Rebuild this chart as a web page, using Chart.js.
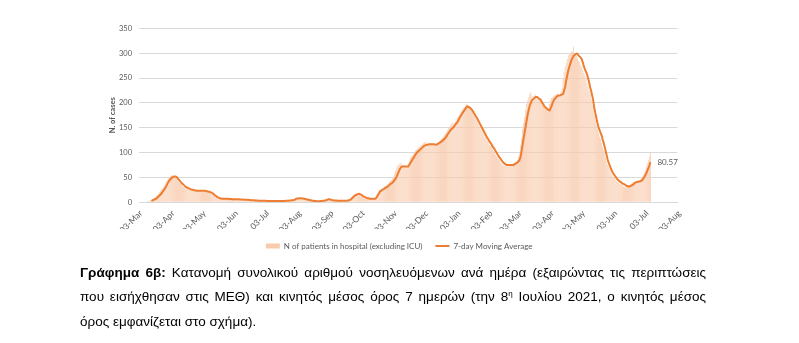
<!DOCTYPE html>
<html>
<head>
<meta charset="utf-8">
<title>Νοσηλευόμενοι ανά ημέρα</title>
<script src="https://cdn.jsdelivr.net/npm/chart.js@4.4.1/dist/chart.umd.min.js"></script>
<style>
    body { margin: 0; background: #fff; width: 799px; height: 343px; overflow: hidden; position: relative; }
    #hospChart { position: absolute; left: 0; top: 0; }
    .caption {
        position: absolute; left: 80px; top: 260.5px; width: 626px;
        font-family: "Liberation Sans", Arial, sans-serif; font-size: 13.5px;
        line-height: 24.5px; color: #000;
    }
    .caption .jl { text-align: justify; text-align-last: justify; }
    .caption sup { font-size: 8px; line-height: 0; }
</style>
</head>
<body>
<canvas id="hospChart" width="799" height="262"></canvas>
<div class="caption">
    <div class="jl"><b>Γράφημα 6β:</b> Κατανομή συνολικού αριθμού νοσηλευόμενων ανά ημέρα (εξαιρώντας τις περιπτώσεις</div>
    <div class="jl">που εισήχθησαν στις ΜΕΘ) και κινητός μέσος όρος 7 ημερών (την 8<sup>η</sup> Ιουλίου 2021, ο κινητός μέσος</div>
    <div>όρος εμφανίζεται στο σχήμα).</div>
</div>
<script>
// x axis runs from 03-Mar-2020 to 03-Aug-2021, one category per day
const axisStart = '2020-03-03';
const axisEnd = '2021-08-03';
const seriesStart = '2020-03-09';
const monthAbbr = ['Jan', 'Feb', 'Mar', 'Apr', 'May', 'Jun', 'Jul', 'Aug', 'Sep', 'Oct', 'Nov', 'Dec'];

const barLabel = 'N of patients in hospital (excluding ICU)';
const lineLabel = '7-day Moving Average';

// daily patients in hospital, from 09-Mar-2020
const patients = [
    1, 1, 2, 2, 3, 4, 5, 6, 8, 9, 11, 13, 15, 18, 21, 24, 27, 30, 33, 37, 41, 44, 48,                                   // Mar 20
    51, 53, 55, 52, 54, 50, 49, 47, 44, 41, 39, 37, 35, 33, 31, 30, 29, 28, 27, 26, 25, 24, 24, 23, 23, 22, 24, 23, 22, 23, // Apr
    24, 22, 23, 21, 24, 23, 22, 21, 20, 19, 18, 17, 15, 13, 11, 10, 9, 8, 7, 7, 7, 8, 7, 6, 7, 8, 7, 6, 6, 7, 6,          // May
    6, 5, 7, 6, 6, 5, 6, 5, 6, 5, 5, 5, 5, 4, 5, 5, 4, 4, 4, 4, 3, 4, 3, 3, 4, 3, 3, 3, 2, 3,                             // Jun
    3, 2, 3, 2, 2, 3, 2, 3, 2, 3, 2, 2, 3, 2, 3, 2, 3, 2, 3, 2, 3, 3, 3, 3, 4, 4, 4, 4, 5, 6, 7,                          // Jul
    8, 9, 8, 8, 7, 8, 7, 7, 6, 6, 5, 5, 4, 4, 3, 3, 3, 2, 2, 2, 2, 2, 2, 3, 3, 3, 4, 4, 5, 6, 6,                          // Aug
    6, 5, 4, 4, 3, 3, 3, 4, 3, 3, 3, 3, 3, 2, 3, 3, 4, 3, 4, 5, 6, 7, 9, 12, 14, 16, 17, 18, 17, 16,                      // Sep
    14, 12, 11, 10, 9, 8, 8, 7, 7, 6, 6, 7, 7, 6, 7, 8, 12, 16, 20, 24, 26, 27, 28, 30, 32, 34, 35, 37, 38, 41, 44,       // Oct
    45, 48, 52, 58, 64, 70, 74, 76, 78, 80, 74, 72, 71, 75, 70, 73, 78, 84, 90, 93, 95, 98, 100, 104, 106, 108, 110, 112, 114, 115, // Nov
    118, 120, 122, 121, 118, 117, 116, 120, 118, 116, 115, 118, 114, 117, 120, 122, 124, 126, 128, 130, 133, 136, 138, 142, 146, 150, 152, 155, 158, 160, 158, // Dec
    162, 165, 170, 172, 176, 180, 183, 186, 190, 192, 195, 198, 196, 194, 190, 188, 184, 180, 176, 172, 168, 165, 160, 156, 152, 148, 145, 141, 136, 132, 128, // Jan 21
    124, 120, 116, 113, 110, 106, 103, 100, 96, 93, 90, 87, 84, 80, 78, 76, 74, 73, 74, 72, 74, 75, 73, 76, 74, 77, 76, 80, // Feb
    82, 85, 92, 100, 115, 130, 148, 160, 172, 185, 198, 205, 212, 218, 222, 215, 210, 214, 218, 212, 208, 206, 210, 204, 200, 196, 192, 190, 188, 186, 184, // Mar
    190, 198, 204, 210, 212, 214, 216, 215, 218, 220, 216, 214, 222, 230, 248, 262, 272, 280, 288, 296, 298, 300, 304, 302, 313, 300, 298, 295, 290, 285, // Apr
    282, 276, 272, 266, 260, 255, 248, 240, 232, 224, 218, 208, 196, 186, 175, 165, 155, 148, 140, 132, 128, 120, 112, 105, 98, 90, 82, 75, 70, 64, 60, // May
    55, 52, 50, 48, 45, 42, 40, 38, 37, 36, 34, 32, 31, 30, 30, 31, 33, 35, 37, 38, 40, 41, 40, 42, 43, 42, 44, 45, 48, 50, // Jun
    55, 60, 65, 72, 78, 85, 92, 100                                                                                        // Jul
];

// 7-day moving average, same days as above
const movingAvg = [
    null, null, null, null, null, null, 3, 4, 5, 6, 7, 8, 10, 12, 14, 16, 19, 22, 25, 28, 31, 36, 40,                    // Mar 20
    43, 46, 48, 50, 51, 52, 52, 51, 49, 46, 44, 41, 39, 37, 35, 33, 31, 30, 29, 28, 27, 26, 25, 25, 24, 24, 23, 23, 23, 23, // Apr
    23, 23, 23, 23, 23, 23, 22, 22, 21, 21, 20, 19, 18, 16, 14, 13, 11, 10, 9, 8, 7.5, 7, 7, 7, 7, 7, 7, 7, 6.5, 6.5, 6.5, // May
    6, 6, 6, 6, 6, 6, 6, 5.5, 5.5, 5.5, 5.5, 5, 5, 5, 5, 5, 4.5, 4.5, 4, 4, 4, 4, 3.5, 3.5, 3.5, 3, 3, 3, 3, 3,          // Jun
    3, 3, 3, 2.5, 2.5, 2.5, 2.5, 2.5, 2.5, 2.5, 2.5, 2.5, 2.5, 2.5, 2.5, 2.5, 2.5, 2.5, 2.5, 2.5, 2.5, 3, 3, 3, 3, 3.5, 3.5, 4, 4, 4.5, 5.5, // Jul
    7, 7.5, 7.5, 8, 8, 8, 7.5, 7.5, 7, 6.5, 6, 5.5, 5, 4.5, 4, 3.5, 3, 3, 2.5, 2.5, 2, 2, 2, 2, 2.5, 2.5, 3, 3, 3.5, 4, 5, // Aug
    6, 6, 5.5, 5, 4, 4, 3.5, 3.5, 3.5, 3, 3, 3, 3, 3, 3, 3, 3, 3, 3, 3.5, 4, 5, 6, 8, 10, 12, 14, 15, 16, 16.5,          // Sep
    17, 16, 15, 13, 12, 11, 10, 9, 8, 8, 7, 7, 7, 7, 7, 7, 8, 11, 15, 18, 22, 23, 25, 26, 27, 29, 30, 31, 33, 35, 37,    // Oct
    38, 40, 42, 45, 48, 52, 57, 62, 67, 70, 72, 72, 72, 72, 72, 72, 72, 75, 79, 82, 86, 89, 92, 96, 99, 101, 103, 105, 107, 109, // Nov
    111, 113, 114, 115, 116, 116, 117, 117, 117, 117, 117, 117, 116, 116, 117, 118, 119, 121, 122, 124, 126, 128, 130, 133, 137, 140, 143, 146, 148, 150, 152, // Dec
    155, 158, 160, 164, 168, 172, 175, 179, 182, 185, 188, 191, 193, 192, 191, 189, 187, 184, 180, 177, 173, 170, 166, 162, 158, 154, 150, 146, 142, 138, 134, // Jan 21
    130, 127, 123, 120, 117, 113, 110, 107, 103, 100, 96, 93, 90, 87, 84, 81, 79, 77, 76, 75, 75, 75, 75, 75, 75, 75, 76, 77, // Feb
    79, 80, 82, 85, 90, 102, 115, 128, 140, 153, 165, 177, 186, 195, 200, 205, 207, 209, 211, 212, 212, 210, 208, 207, 204, 200, 197, 193, 191, 189, 187, // Mar
    186, 185, 189, 194, 200, 205, 208, 210, 213, 214, 215, 215, 216, 217, 218, 225, 232, 245, 255, 265, 272, 279, 286, 290, 294, 296, 298, 299, 298, 295, // Apr
    293, 291, 288, 281, 274, 268, 263, 258, 250, 242, 232, 224, 215, 205, 190, 180, 170, 160, 152, 146, 140, 135, 127, 120, 112, 103, 94, 85, 79, 73, 68, // May
    63, 59, 56, 53, 50, 47, 45, 43, 41, 40, 38, 37, 36, 35, 33, 33, 32, 32, 33, 34, 35, 37, 39, 40, 41, 41, 42, 42, 43, 44, // Jun
    47, 50, 54, 58, 63, 68, 74, 80.57                                                                                      // Jul
];

const yTicks = { min: 0, max: 350, step: 50 };

// --- build the day categories ---
const DAY = 86400000;
const t0 = Date.parse(axisStart + 'T00:00:00Z');
const nDays = Math.round((Date.parse(axisEnd + 'T00:00:00Z') - t0) / DAY) + 1;
const offset = Math.round((Date.parse(seriesStart + 'T00:00:00Z') - t0) / DAY);

const dayLabels = [];
for (let i = 0; i < nDays; i++) {
    const d = new Date(t0 + i * DAY);
    dayLabels.push(String(d.getUTCDate()).padStart(2, '0') + '-' + monthAbbr[d.getUTCMonth()]);
}

const lead = new Array(offset).fill(null);
const barData = lead.concat(patients);
const lineData = lead.concat(movingAvg);

const grey = '#595959';
Chart.defaults.font.family = 'Lato, "Open Sans", sans-serif';

// value label at the end of the moving average line
const endLabel = {
    id: 'endLabel',
    afterDatasetsDraw(chart) {
        const meta = chart.getDatasetMeta(1);
        const last = lineData.length - 1;
        const pt = meta.data[last];
        if (!pt) return;
        const ctx = chart.ctx;
        ctx.save();
        ctx.font = '8px Lato';
        ctx.fillStyle = grey;
        ctx.textBaseline = 'middle';
        ctx.textAlign = 'left';
        ctx.fillText(String(lineData[last]), pt.x + 7, pt.y);
        ctx.restore();
    }
};

// legend sits a little right of the plot centre
const legendNudge = {
    id: 'legendNudge',
    afterLayout(chart) {
        chart.legend.left += 8.5;
        chart.legend.right += 8.5;
    }
};

const ctx = document.getElementById('hospChart').getContext('2d');
new Chart(ctx, {
    type: 'bar',
    data: {
        labels: dayLabels,
        datasets: [
            {
                type: 'bar',
                label: barLabel,
                data: barData,
                backgroundColor: '#F8CBAD',
                borderWidth: 0,
                barPercentage: 0.75,
                categoryPercentage: 1,
                pointStyle: 'rect',
                order: 2
            },
            {
                type: 'line',
                label: lineLabel,
                data: lineData,
                borderColor: '#ED7D31',
                backgroundColor: '#ED7D31',
                borderWidth: 2,
                pointRadius: 0,
                pointStyle: 'line',
                tension: 0,
                order: 1
            }
        ]
    },
    options: {
        responsive: false,
        animation: false,
        devicePixelRatio: 1,
        layout: { padding: { left: 104, right: 121.6, top: 28.3, bottom: 2 } },
        scales: {
            x: {
                offset: false,
                grid: { display: false },
                border: { display: true, color: '#D9D9D9' },
                ticks: {
                    autoSkip: false, minRotation: 45, maxRotation: 45, padding: -2, labelOffset: 2,
                    color: grey, font: { size: 8.5 },
                    callback: (v, i) => dayLabels[i].startsWith('03-') ? dayLabels[i] : ''
                },
                afterFit: s => { s.height = 26.7; }
            },
            y: {
                min: yTicks.min, max: yTicks.max,
                ticks: { stepSize: yTicks.step, padding: 7, color: grey, font: { size: 7.5 } },
                grid: { color: '#D9D9D9', drawTicks: false },
                border: { display: false },
                title: { display: true, text: 'N. of cases', color: grey, font: { size: 7.5, weight: 'bold' }, padding: 4 },
                afterFit: s => { s.width = 35; }
            }
        },
        plugins: {
            legend: {
                position: 'bottom',
                labels: {
                    usePointStyle: true, pointStyleWidth: 14, boxHeight: 5, padding: 13,
                    color: grey, font: { size: 8 },
                    sort: (a, b) => a.datasetIndex - b.datasetIndex
                }
            },
            tooltip: { enabled: false }
        }
    },
    plugins: [endLabel, legendNudge]
});
</script>
</body>
</html>
